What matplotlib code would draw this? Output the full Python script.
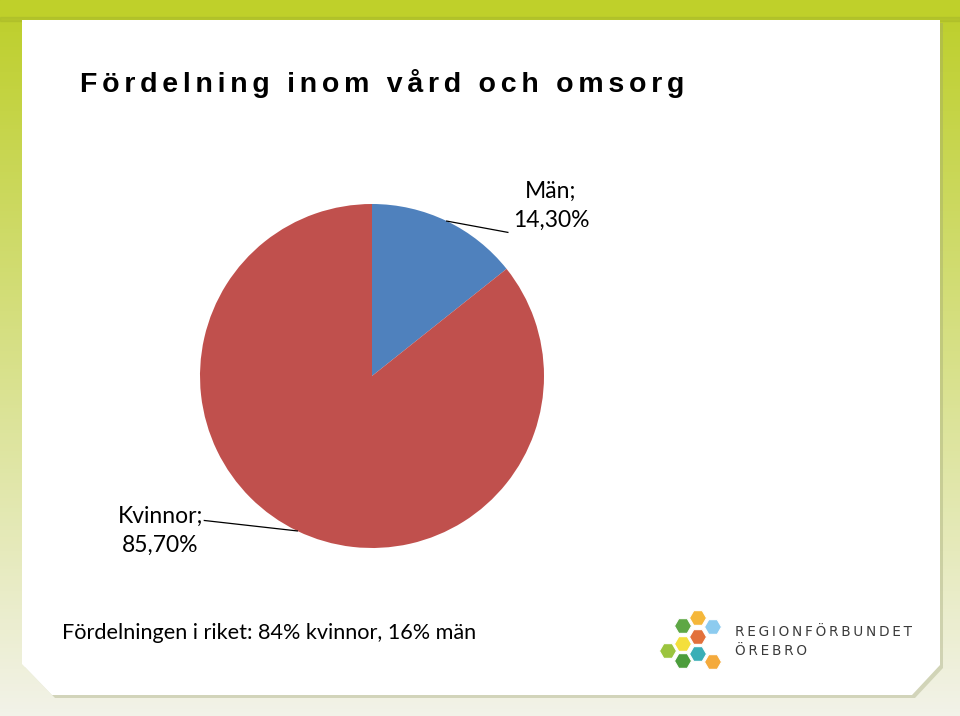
import numpy as np
import matplotlib.pyplot as plt
from matplotlib.patches import Polygon, RegularPolygon

# data
labels = ["Män", "Kvinnor"]
values = [14.3, 85.7]
value_text = ["14,30%", "85,70%"]
colors = ["#4f81bd", "#c0504d"]

title = "Fördelning inom vård och omsorg"
footnote = "Fördelningen i riket: 84% kvinnor, 16% män"
logo_lines = ["REGIONFÖRBUNDET", "ÖREBRO"]

W, H = 960, 716
fig = plt.figure(figsize=(W / 100, H / 100), dpi=100)

# background frame, pixel coordinates
bg = fig.add_axes([0, 0, 1, 1])
bg.set_xlim(0, W)
bg.set_ylim(H, 0)
bg.axis("off")

yy = np.linspace(0, 1, 200)[:, None]
top = np.array([0.74, 0.81, 0.16])
bot = np.array([0.95, 0.95, 0.91])
grad = top * (1 - yy[..., None]) + bot * yy[..., None]
grad = np.repeat(grad, 2, axis=1)
bg.imshow(grad, extent=[0, W, H, 0], aspect="auto", zorder=0)
bg.axhspan(0, 20, color="#bfd02a", zorder=1)
bg.axhspan(17, 21, color="#a9b92a", alpha=0.5, zorder=1)

panel = [(22, 20), (940, 20), (940, 665), (912, 695), (52, 695), (22, 664)]
shadow = Polygon([(x + 3, y + 3) for x, y in panel], closed=True,
                 fc="#9aa070", alpha=0.35, ec="none", zorder=2)
bg.add_patch(shadow)
bg.add_patch(Polygon(panel, closed=True, fc="white", ec="none", zorder=3))

# letter-spaced title
spaced_title = "\u200a\u200a".join(title)
bg.text(80, 83, spaced_title, fontsize=20.5, fontweight="bold",
        family=["Liberation Sans", "DejaVu Sans"], va="center", ha="left", zorder=5)
bg.text(62, 633, footnote, fontsize=15.6, family="Lato", va="center", ha="left",
        zorder=5)

# logo
hex_pos = [(683, 626), (698, 618), (713, 627), (698, 637), (683, 644),
           (668, 651), (698, 654), (683, 661), (713, 662)]
hex_col = ["#5ea745", "#f5b73a", "#8ccbef", "#e2703b", "#f4df3c",
           "#9bc43e", "#3aaeb6", "#4c9d3c", "#f4aa3c"]
for (hx, hy), hc in zip(hex_pos, hex_col):
    bg.add_patch(RegularPolygon((hx, hy), 6, radius=8.5, orientation=np.pi / 6,
                                fc=hc, ec="white", lw=0.8, zorder=5))
for i, line in enumerate(logo_lines):
    bg.text(735, 632 + 19 * i, "\u2009".join(line), fontsize=9.8, color="#3a3a3a",
            family="DejaVu Sans", va="center", ha="left", zorder=5)

# pie, center (372,376) radius 172 px
cx, cy, r = 372, 376, 172
ax = fig.add_axes([(cx - r) / W, (H - cy - r) / H, 2 * r / W, 2 * r / H])
wedges, _ = ax.pie(values, colors=colors, startangle=90, counterclock=False,
                   radius=1)
ax.set_xlim(-1, 1)
ax.set_ylim(-1, 1)
ax.set_zorder(4)
ax.patch.set_alpha(0)

# data labels with leader lines
start = 90.0
ends = [(0.79, 0.835), (-0.975, -0.84)]
text_pos = [(1.04, 0.99), (-1.23, -0.9)]
for v, lab, vt, (ex, ey), (tx, ty) in zip(values, labels, value_text, ends, text_pos):
    mid = np.deg2rad(start - v * 3.6 / 2)
    start -= v * 3.6
    px, py = np.cos(mid), np.sin(mid)
    ax.plot([px, ex], [py, ey], color="black", lw=0.9, clip_on=False)
    ax.text(tx, ty, f"{lab};\n{vt}", fontsize=16.5, family="Lato", ha="center",
            va="center", linespacing=1.5, clip_on=False)

fig.savefig("out.png", dpi=100)
